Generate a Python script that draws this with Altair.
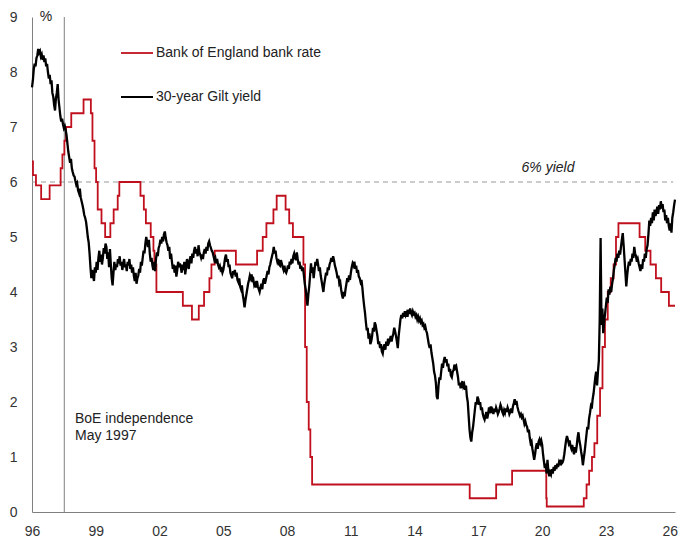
import altair as alt
import pandas as pd

# ---------------- data ----------------
# 30-year gilt yield, semi-monthly readings (1st and 16th of each month), %
gilt_1996 = [7.72, 7.85, 8.05, 8.15, 8.10, 8.25, 8.30, 8.42, 8.35, 8.38, 8.28, 8.32, 8.22, 8.30, 8.18, 8.25, 8.10, 8.15, 8.00, 7.88, 7.95, 7.78, 7.85, 7.62]
gilt_1997 = [7.55, 7.40, 7.30, 7.52, 7.62, 7.78, 7.50, 7.35, 7.20, 7.10, 7.15, 7.05, 6.98, 7.02, 6.95, 6.85, 6.70, 6.55, 6.45, 6.35, 6.42, 6.25, 6.18, 6.12]
gilt_1998 = [6.10, 6.02, 5.95, 5.98, 5.85, 5.80, 5.88, 5.72, 5.65, 5.58, 5.50, 5.40, 5.35, 5.28, 5.15, 5.00, 4.90, 4.70, 4.45, 4.25, 4.40, 4.30, 4.20, 4.45]
gilt_1999 = [4.35, 4.55, 4.40, 4.62, 4.75, 4.55, 4.68, 4.50, 4.62, 4.80, 4.70, 4.88, 4.82, 4.60, 4.72, 4.45, 4.78, 4.50, 4.25, 4.12, 4.35, 4.55, 4.40, 4.50]
gilt_2000 = [4.45, 4.60, 4.52, 4.65, 4.48, 4.55, 4.40, 4.52, 4.60, 4.45, 4.50, 4.38, 4.55, 4.48, 4.60, 4.42, 4.50, 4.35, 4.45, 4.30, 4.20, 4.35, 4.15, 4.25]
gilt_2001 = [4.30, 4.42, 4.35, 4.55, 4.48, 4.62, 4.75, 4.70, 4.88, 5.00, 4.90, 4.82, 4.95, 4.70, 4.55, 4.62, 4.48, 4.40, 4.55, 4.38, 4.60, 4.72, 4.65, 4.80]
gilt_2002 = [4.85, 4.95, 4.88, 5.00, 4.92, 5.05, 5.10, 4.98, 4.90, 4.85, 4.75, 4.82, 4.60, 4.70, 4.55, 4.42, 4.50, 4.35, 4.48, 4.28, 4.40, 4.55, 4.45, 4.52]
gilt_2003 = [4.45, 4.35, 4.50, 4.40, 4.55, 4.32, 4.45, 4.60, 4.50, 4.42, 4.58, 4.65, 4.52, 4.70, 4.62, 4.75, 4.82, 4.70, 4.78, 4.65, 4.85, 4.72, 4.68, 4.62]
gilt_2004 = [4.68, 4.60, 4.72, 4.78, 4.70, 4.82, 4.75, 4.88, 4.92, 4.85, 4.80, 4.75, 4.72, 4.65, 4.58, 4.62, 4.52, 4.60, 4.50, 4.45, 4.48, 4.40, 4.42, 4.35]
gilt_2005 = [4.40, 4.50, 4.62, 4.68, 4.55, 4.60, 4.45, 4.50, 4.35, 4.30, 4.25, 4.38, 4.32, 4.40, 4.28, 4.35, 4.22, 4.18, 4.25, 4.10, 4.05, 4.12, 3.95, 3.85]
gilt_2006 = [3.72, 3.85, 3.95, 4.05, 4.15, 4.22, 4.30, 4.25, 4.32, 4.18, 4.22, 4.12, 4.15, 4.08, 4.20, 4.10, 4.05, 4.00, 4.08, 4.15, 4.05, 4.20, 4.25, 4.15]
gilt_2007 = [4.22, 4.30, 4.38, 4.32, 4.45, 4.50, 4.58, 4.65, 4.72, 4.82, 4.70, 4.75, 4.62, 4.55, 4.60, 4.50, 4.48, 4.58, 4.52, 4.45, 4.40, 4.48, 4.38, 4.35]
gilt_2008 = [4.40, 4.48, 4.42, 4.55, 4.50, 4.60, 4.52, 4.65, 4.70, 4.62, 4.58, 4.72, 4.60, 4.50, 4.55, 4.42, 4.48, 4.38, 4.45, 4.30, 4.15, 4.05, 3.90, 3.75]
gilt_2009 = [3.95, 4.10, 4.30, 4.52, 4.35, 4.45, 4.25, 4.40, 4.55, 4.48, 4.60, 4.50, 4.38, 4.45, 4.30, 4.20, 4.10, 4.00, 4.15, 4.25, 4.35, 4.30, 4.45, 4.40]
gilt_2010 = [4.50, 4.55, 4.62, 4.55, 4.65, 4.58, 4.48, 4.42, 4.35, 4.25, 4.30, 4.15, 4.18, 4.05, 3.95, 3.88, 4.00, 3.92, 4.05, 4.15, 4.25, 4.18, 4.30, 4.22]
gilt_2011 = [4.35, 4.45, 4.52, 4.48, 4.55, 4.42, 4.48, 4.35, 4.40, 4.28, 4.25, 4.18, 4.22, 4.08, 3.90, 3.75, 3.62, 3.45, 3.30, 3.35, 3.15, 3.25, 3.05, 3.10]
gilt_2012 = [3.20, 3.35, 3.28, 3.45, 3.40, 3.30, 3.20, 3.05, 3.10, 2.98, 3.05, 2.92, 2.88, 3.00, 3.05, 2.95, 3.10, 3.02, 3.15, 3.08, 3.12, 3.20, 3.10, 3.18]
gilt_2013 = [3.25, 3.35, 3.28, 3.20, 3.10, 2.98, 3.20, 3.35, 3.50, 3.58, 3.52, 3.62, 3.55, 3.65, 3.58, 3.62, 3.55, 3.68, 3.60, 3.70, 3.62, 3.58, 3.65, 3.60]
gilt_2014 = [3.62, 3.55, 3.58, 3.50, 3.55, 3.48, 3.52, 3.45, 3.48, 3.40, 3.42, 3.35, 3.38, 3.30, 3.25, 3.15, 3.05, 2.98, 3.05, 2.90, 2.80, 2.70, 2.55, 2.48]
gilt_2015 = [2.35, 2.10, 2.05, 2.30, 2.45, 2.40, 2.55, 2.70, 2.62, 2.75, 2.82, 2.72, 2.78, 2.65, 2.70, 2.55, 2.60, 2.48, 2.45, 2.55, 2.58, 2.68, 2.62, 2.65]
gilt_2016 = [2.55, 2.45, 2.30, 2.35, 2.25, 2.30, 2.38, 2.28, 2.32, 2.22, 2.30, 2.10, 2.00, 1.75, 1.50, 1.35, 1.28, 1.45, 1.55, 1.70, 1.85, 2.00, 1.95, 2.10]
gilt_2017 = [2.05, 1.95, 2.00, 1.85, 1.90, 1.78, 1.72, 1.68, 1.75, 1.82, 1.70, 1.78, 1.90, 1.85, 1.92, 1.80, 1.85, 1.78, 1.88, 1.82, 1.90, 1.85, 1.78, 1.82]
gilt_2018 = [1.88, 1.95, 1.90, 1.82, 1.78, 1.85, 1.80, 1.88, 1.82, 1.90, 1.85, 1.78, 1.82, 1.88, 1.80, 1.92, 1.98, 2.05, 1.95, 2.02, 1.92, 1.85, 1.80, 1.75]
gilt_2019 = [1.78, 1.72, 1.75, 1.68, 1.60, 1.65, 1.58, 1.55, 1.45, 1.50, 1.35, 1.25, 1.28, 1.15, 1.05, 0.95, 1.05, 1.18, 1.25, 1.15, 1.28, 1.32, 1.25, 1.30]
gilt_2020 = [1.22, 1.05, 0.92, 0.80, 0.88, 0.70, 0.95, 0.75, 0.65, 0.72, 0.68, 0.78, 0.70, 0.82, 0.75, 0.85, 0.78, 0.88, 0.82, 0.90, 0.85, 0.95, 0.88, 0.90]
gilt_2021 = [0.95, 1.05, 1.18, 1.30, 1.38, 1.32, 1.25, 1.30, 1.20, 1.15, 1.22, 1.12, 1.05, 1.18, 1.08, 1.20, 1.35, 1.45, 1.30, 1.22, 1.10, 1.00, 0.85, 0.98]
gilt_2022 = [1.10, 1.25, 1.40, 1.55, 1.50, 1.70, 1.80, 1.92, 1.88, 2.05, 2.15, 2.30, 2.45, 2.55, 2.30, 2.55, 2.75, 3.50, 4.98, 3.40, 3.70, 3.25, 3.45, 3.60]
gilt_2023 = [3.75, 3.90, 3.80, 4.05, 3.95, 4.10, 4.00, 4.15, 4.25, 4.40, 4.50, 4.62, 4.55, 4.70, 4.62, 4.75, 4.68, 4.82, 4.95, 5.07, 4.85, 4.60, 4.35, 4.10]
gilt_2024 = [4.30, 4.45, 4.55, 4.48, 4.60, 4.55, 4.70, 4.62, 4.82, 4.70, 4.65, 4.55, 4.60, 4.52, 4.45, 4.38, 4.50, 4.42, 4.60, 4.55, 4.70, 4.62, 4.78, 4.85]
gilt_2025 = [5.05, 5.30, 5.20, 5.35, 5.25, 5.45, 5.30, 5.50, 5.38, 5.45, 5.55, 5.42, 5.58, 5.50, 5.65, 5.52, 5.60, 5.45, 5.50, 5.30, 5.40, 5.25, 5.35, 5.20]
gilt_2026 = [5.12, 5.25, 5.08, 5.35, 5.45, 5.58, 5.68]

gilt_by_year = {
    1996: gilt_1996, 1997: gilt_1997, 1998: gilt_1998, 1999: gilt_1999,
    2000: gilt_2000, 2001: gilt_2001, 2002: gilt_2002, 2003: gilt_2003,
    2004: gilt_2004, 2005: gilt_2005, 2006: gilt_2006, 2007: gilt_2007,
    2008: gilt_2008, 2009: gilt_2009, 2010: gilt_2010, 2011: gilt_2011,
    2012: gilt_2012, 2013: gilt_2013, 2014: gilt_2014, 2015: gilt_2015,
    2016: gilt_2016, 2017: gilt_2017, 2018: gilt_2018, 2019: gilt_2019,
    2020: gilt_2020, 2021: gilt_2021, 2022: gilt_2022, 2023: gilt_2023,
    2024: gilt_2024, 2025: gilt_2025, 2026: gilt_2026,
}

# Bank of England bank rate: dates of change and new level, %
rate_dates = [
    "1996-01-01", "1996-01-18", "1996-03-08", "1996-06-06", "1996-10-30",
    "1997-05-06", "1997-06-06", "1997-07-10", "1997-08-07", "1997-11-06",
    "1998-06-04", "1998-10-08", "1998-11-05", "1998-12-10",
    "1999-01-07", "1999-02-04", "1999-04-08", "1999-06-10", "1999-09-08", "1999-11-04",
    "2000-01-13", "2000-02-10",
    "2001-02-08", "2001-04-05", "2001-05-10", "2001-08-02", "2001-09-18", "2001-10-04", "2001-11-08",
    "2003-02-06", "2003-07-10", "2003-11-06",
    "2004-02-05", "2004-05-06", "2004-06-10", "2004-08-05",
    "2005-08-04", "2006-08-03", "2006-11-09",
    "2007-01-11", "2007-05-10", "2007-07-05", "2007-12-06",
    "2008-02-07", "2008-04-10", "2008-10-08", "2008-11-06", "2008-12-04",
    "2009-01-08", "2009-02-05", "2009-03-05",
    "2016-08-04", "2017-11-02", "2018-08-02",
    "2020-03-11", "2020-03-19",
    "2021-12-16", "2022-02-03", "2022-03-17", "2022-05-05", "2022-06-16",
    "2022-08-04", "2022-09-22", "2022-11-03", "2022-12-15",
    "2023-02-02", "2023-03-23", "2023-05-11", "2023-06-22", "2023-08-03",
    "2024-08-01", "2024-11-07", "2025-02-06", "2025-05-08", "2025-08-07",
    "2025-12-18", "2026-04-01",
]
rate_values = [
    6.375, 6.125, 5.9375, 5.6875, 5.9375,
    6.25, 6.5, 6.75, 7.0, 7.25,
    7.5, 7.25, 6.75, 6.25,
    6.0, 5.5, 5.25, 5.0, 5.25, 5.5,
    5.75, 6.0,
    5.75, 5.5, 5.25, 5.0, 4.75, 4.5, 4.0,
    3.75, 3.5, 3.75,
    4.0, 4.25, 4.5, 4.75,
    4.5, 4.75, 5.0,
    5.25, 5.5, 5.75, 5.5,
    5.25, 5.0, 4.5, 3.0, 2.0,
    1.5, 1.0, 0.5,
    0.25, 0.5, 0.75,
    0.25, 0.1,
    0.25, 0.5, 0.75, 1.0, 1.25,
    1.75, 2.25, 3.0, 3.5,
    4.0, 4.25, 4.5, 5.0, 5.25,
    5.0, 4.75, 4.5, 4.25, 4.0,
    3.75, 3.75,
]

series_names = ["Bank of England bank rate", "30-year Gilt yield"]
series_colors = ["#c0101e", "#000000"]
x_ticks = [1996, 1999, 2002, 2005, 2008, 2011, 2014, 2017, 2020, 2023, 2026]
y_ticks = [0, 1, 2, 3, 4, 5, 6, 7, 8, 9]
independence_date = "1997-07-08"
yield_ref = 6


def dec_year(s):
    y, m, d = (int(p) for p in s.split("-"))
    return y + (m - 1) / 12 + (d - 1) / 365


gilt_df = pd.DataFrame(
    [{"t": y + k / 24, "v": v} for y, vals in gilt_by_year.items() for k, v in enumerate(vals)]
)
rate_df = pd.DataFrame({"t": [dec_year(d) for d in rate_dates], "v": rate_values})

x_dom = [1996, dec_year("2026-04-01")]
xscale = alt.Scale(domain=x_dom, nice=False, zero=False)
yscale = alt.Scale(domain=[0, 9], nice=False)

FONT = "Liberation Sans"

x_axis = alt.Axis(
    values=x_ticks, format="d", labelExpr="substring(datum.label, 2, 4)",
    title=None, grid=False, ticks=False, labelPadding=12, labelFontSize=14,
    labelColor="#333333", domainColor="#808080", labelFont=FONT,
    labelFlush=False, labelOverlap=False,
)
y_axis = alt.Axis(
    values=y_ticks, format="d", title=None, grid=False, ticks=False, labelPadding=15,
    labelFontSize=14, labelColor="#333333", domainColor="#808080", labelFont=FONT,
    labelFlush=False, labelOverlap=False,
)

rate_line = alt.Chart(rate_df).mark_line(
    interpolate="step-after", color=series_colors[0], strokeWidth=1.8
).encode(
    x=alt.X("t:Q", scale=xscale, axis=x_axis),
    y=alt.Y("v:Q", scale=yscale, axis=y_axis),
)

gilt_line = alt.Chart(gilt_df).mark_line(
    color=series_colors[1], strokeWidth=2.3, strokeJoin="miter"
).encode(
    x=alt.X("t:Q", scale=xscale),
    y=alt.Y("v:Q", scale=yscale),
)

ref_line = alt.Chart().mark_rule(color="#999999", strokeDash=[5, 4], strokeWidth=1).encode(
    x=alt.datum(1996, scale=xscale), x2=alt.datum(dec_year("2026-03-01")),
    y=alt.datum(yield_ref, scale=yscale),
)

ind_line = alt.Chart().mark_rule(color="#808080", strokeWidth=1).encode(
    x=alt.datum(dec_year(independence_date), scale=xscale),
    y=alt.datum(0, scale=yscale), y2=alt.datum(9),
)

ref_text = alt.Chart().mark_text(
    text="6% yield", font=FONT, fontSize=14, fontStyle="italic", color="#222222", align="center"
).encode(x=alt.value(516), y=alt.value(151))

ind_text = alt.Chart().mark_text(
    text=["BoE independence", "May 1997"], font=FONT, fontSize=14, color="#222222",
    align="left", baseline="middle", lineHeight=17,
).encode(x=alt.value(43), y=alt.value(402))

pct_text = alt.Chart().mark_text(
    text="%", font=FONT, fontSize=14, color="#222222", align="center", baseline="middle"
).encode(x=alt.value(14), y=alt.value(0))

leg_rate_sym = alt.Chart().mark_rule(color=series_colors[0], strokeWidth=1.8).encode(
    x=alt.value(89), x2=alt.value(121), y=alt.value(36)
)
leg_gilt_sym = alt.Chart().mark_rule(color=series_colors[1], strokeWidth=2).encode(
    x=alt.value(89), x2=alt.value(121), y=alt.value(80)
)
leg_rate_txt = alt.Chart().mark_text(
    text=series_names[0], font=FONT, fontSize=14, color="#222222", align="left", baseline="middle"
).encode(x=alt.value(124), y=alt.value(36))
leg_gilt_txt = alt.Chart().mark_text(
    text=series_names[1], font=FONT, fontSize=14, color="#222222", align="left", baseline="middle"
).encode(x=alt.value(124), y=alt.value(80))

chart = alt.layer(
    ref_line, ind_line, rate_line, gilt_line, ref_text, ind_text, pct_text,
    leg_rate_sym, leg_gilt_sym, leg_rate_txt, leg_gilt_txt,
).properties(
    width=643, height=495, autosize="none",
    padding={"left": 24, "top": 9, "right": 6, "bottom": 30},
    background="white",
).configure_view(stroke=None)

chart.save("out.html", embed_options={"renderer": "svg", "actions": False})
